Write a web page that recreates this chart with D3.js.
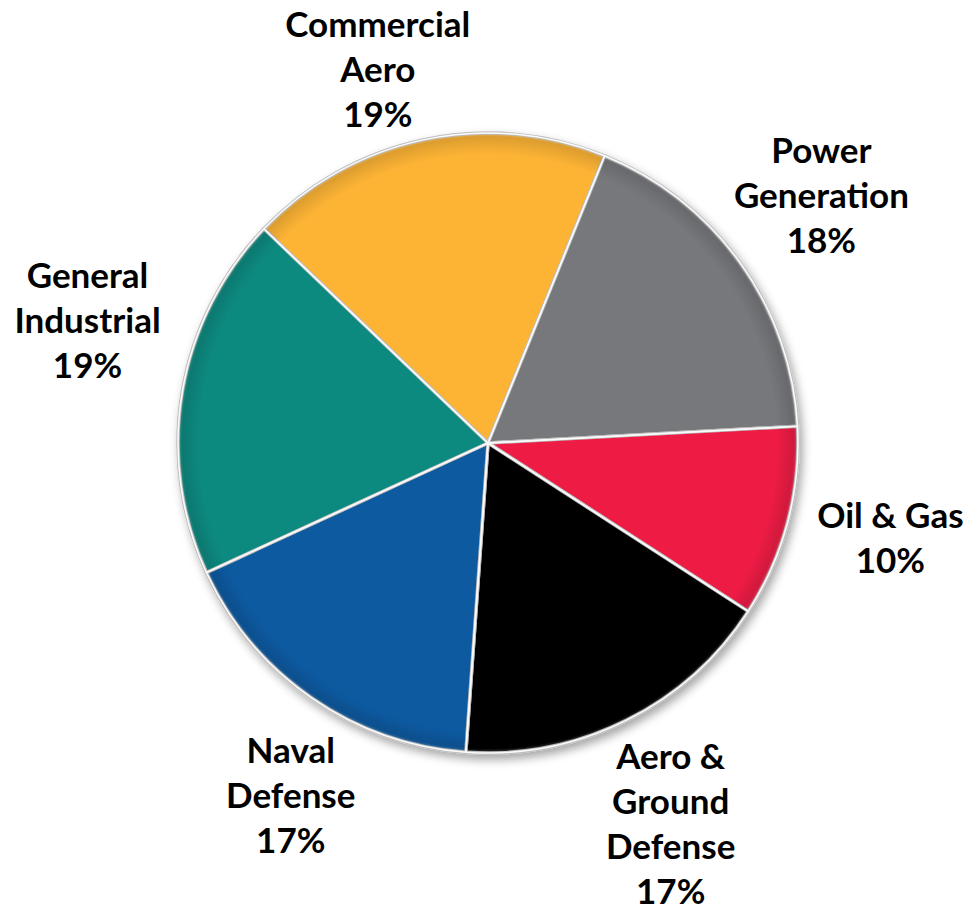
<!DOCTYPE html>
<html>
<head>
<meta charset="utf-8">
<script src="https://cdn.jsdelivr.net/npm/d3@7"></script>
<style>
  body { margin: 0; background: #fff; }
  text { font-family: Lato, "Open Sans", sans-serif; font-weight: bold; fill: #000; }
</style>
</head>
<body>
<div class="graph-goes-here"></div>
<script>
// segment shares, in drawing order (clockwise from the top left)
var categories = ["Commercial Aero", "Power Generation", "Oil & Gas", "Aero & Ground Defense", "Naval Defense", "General Industrial"];
var shares = [19, 18, 10, 17, 17, 19];
var labelLines = [["Commercial", "Aero"], ["Power", "Generation"], ["Oil & Gas"], ["Aero &", "Ground", "Defense"], ["Naval", "Defense"], ["General", "Industrial"]];
var colors = ["#fdb436", "#77787b", "#ee1d45", "#060606", "#0b5aa1", "#078a80"];

var width = 964, height = 911;
var cx = 488, cy = 443, radius = 310;
var labelRadius = 338, lineHeight = 45, fontSize = 35;
var startAngle = -46.3 * Math.PI / 180;
// hand nudges so the labels sit where the original placed them
var labelNudge = [[-20, 35], [-13, 0], [5, 9], [3, 10], [32, 32], [5, -43]];

var svg = d3.select(".graph-goes-here")
    .append("svg")
    .attr("width", width)
    .attr("height", height);

// soft shadow under the pie
var defs = svg.append("defs");
var shadow = defs.append("filter").attr("id", "shadow")
    .attr("x", "-20%").attr("y", "-20%").attr("width", "140%").attr("height", "140%");
shadow.append("feDropShadow")
    .attr("dx", 3).attr("dy", 5).attr("stdDeviation", 5)
    .attr("flood-color", "#000").attr("flood-opacity", 0.35);

// darker rim to fake the bevel
var rim = defs.append("radialGradient").attr("id", "rim")
    .attr("gradientUnits", "userSpaceOnUse")
    .attr("cx", 0).attr("cy", 0).attr("r", radius);
rim.append("stop").attr("offset", "0.93").attr("stop-color", "#000").attr("stop-opacity", 0);
rim.append("stop").attr("offset", "0.985").attr("stop-color", "#000").attr("stop-opacity", 0.12);
rim.append("stop").attr("offset", "1").attr("stop-color", "#fff").attr("stop-opacity", 0.35);

var pie = d3.pie().sort(null).value(d => d)
    .startAngle(startAngle).endAngle(startAngle + 2 * Math.PI);
var arcs = pie(shares);

var arc = d3.arc().innerRadius(0).outerRadius(radius);

var g = svg.append("g").attr("transform", "translate(" + cx + "," + cy + ")");

var pieGroup = g.append("g").attr("filter", "url(#shadow)");
pieGroup.selectAll("path.slice")
    .data(arcs)
    .enter().append("path")
    .attr("class", "slice")
    .attr("d", arc)
    .attr("fill", (d, i) => colors[i])
    .attr("stroke", "#bdbdbd")
    .attr("stroke-width", 3.5)
    .attr("stroke-linejoin", "round");

g.append("circle")
    .attr("r", radius)
    .attr("fill", "url(#rim)")
    .style("pointer-events", "none");

// white line over the grey separator
g.selectAll("path.edge")
    .data(arcs)
    .enter().append("path")
    .attr("class", "edge")
    .attr("d", arc)
    .attr("fill", "none")
    .attr("stroke", "#fafafa")
    .attr("stroke-width", 1.5)
    .attr("stroke-linejoin", "round");

// labels: block edge sits on labelRadius along the slice's mid angle
arcs.forEach((d, i) => {
    var lines = labelLines[i].concat([shares[i] + "%"]);
    var text = g.append("text").attr("text-anchor", "middle").attr("font-size", fontSize);
    lines.forEach(l => text.append("tspan").text(l));
    var w = d3.max(text.selectAll("tspan").nodes(), n => n.getComputedTextLength());
    var h = lines.length * lineHeight;
    var a = (d.startAngle + d.endAngle) / 2;
    var ax = labelRadius * Math.sin(a), ay = -labelRadius * Math.cos(a);
    var bx = ax + (w / 2) * Math.sin(a) + labelNudge[i][0];
    var by = ay - (h / 2) * Math.cos(a) + labelNudge[i][1];
    text.selectAll("tspan")
        .attr("x", bx)
        .attr("y", (l, j) => by + (j - (lines.length - 1) / 2) * lineHeight);
});
</script>
</body>
</html>
